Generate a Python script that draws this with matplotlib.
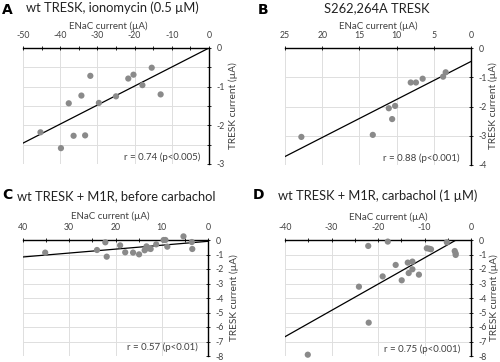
import matplotlib
matplotlib.use("Agg")
import matplotlib.pyplot as plt
from matplotlib.ticker import MultipleLocator

plt.rcParams['font.family'] = ['Lato', 'DejaVu Sans']
plt.rcParams['axes.unicode_minus'] = False

# ---- data ----
a_enac = [-45.3, -39.8, -37.7, -36.4, -34.3, -33.3, -31.9, -29.6, -25.0, -21.7, -20.3, -17.9, -15.4, -13.0]
a_tresk = [-2.18, -2.59, -1.43, -2.27, -1.23, -2.26, -0.72, -1.42, -1.25, -0.79, -0.69, -0.96, -0.51, -1.20]
a_fit_x = [-50, 0]
a_fit_y = [-2.46, 0.0]

b_enac = [22.8, 13.2, 11.05, 10.6, 10.2, 8.1, 7.4, 6.5, 3.75, 3.4]
b_tresk = [-3.04, -2.97, -2.06, -2.43, -1.98, -1.18, -1.18, -1.05, -0.98, -0.83]
b_fit_x = [25, 0]
b_fit_y = [-3.71, -0.46]

c_enac = [35.2, 24.0, 22.2, 21.9, 19.0, 17.9, 16.2, 14.9, 13.7, 13.3, 12.9, 12.4, 11.2, 9.6, 9.2, 8.8, 5.3, 3.5, 3.4]
c_tresk = [-0.87, -0.69, -0.16, -1.15, -0.37, -0.85, -0.87, -0.99, -0.71, -0.44, -0.57, -0.62, -0.30, 0.0, 0.0, -0.46, 0.25, -0.14, -0.62]
c_fit_x = [40, 0]
c_fit_y = [-1.17, -0.09]

d_enac = [-35.1, -24.1, -22.1, -22.0, -19.0, -17.9, -16.2, -14.9, -13.6, -13.4, -12.6, -12.6, -11.2, -9.5, -9.0, -8.6, -5.2, -3.5, -3.3, -3.3]
d_tresk = [-7.91, -3.22, -0.41, -5.70, -2.51, -0.11, -1.72, -2.78, -1.56, -2.28, -1.49, -2.02, -2.39, -0.57, -0.60, -0.64, -0.16, -0.76, -0.92, -1.03]
d_fit_x = [-40, -3.2]
d_fit_y = [-6.67, 0.0]

titles = ["wt TRESK, ionomycin (0.5 \u00b5M)", "S262,264A TRESK",
          "wt TRESK + M1R, before carbachol", "wt TRESK + M1R, carbachol (1 \u00b5M)"]
letters = ["A", "B", "C", "D"]
r_texts = ["r = 0.74 (p<0.005)", "r = 0.88 (p<0.001)", "r = 0.57 (p<0.01)", "r = 0.75 (p<0.001)"]
xlabel = "ENaC current (\u00b5A)"
ylabel = "TRESK current (\u00b5A)"

W, H = 500, 362
fig = plt.figure(figsize=(W / 100, H / 100), dpi=100)

def ax_rect(l, r, t, b):
    return [l / W, 1 - b / H, (r - l) / W, (b - t) / H]

def ftext(x, y, s, **kw):
    fig.text(x / W, 1 - y / H, s, **kw)

panels = [
    dict(rect=(23, 209, 48, 164), x=a_enac, y=a_tresk, fx=a_fit_x, fy=a_fit_y,
         xlim=(-50, 0), ylim=(-3, 0), xmaj=10, xmin=5, ymaj=1, ygrid=0.5),
    dict(rect=(285, 471, 48, 165), x=b_enac, y=b_tresk, fx=b_fit_x, fy=b_fit_y,
         xlim=(25, 0), ylim=(-4, 0), xmaj=5, xmin=None, ymaj=1, ygrid=1),
    dict(rect=(23, 208, 240, 356), x=c_enac, y=c_tresk, fx=c_fit_x, fy=c_fit_y,
         xlim=(40, 0), ylim=(-8, 0), xmaj=10, xmin=5, ymaj=1, ygrid=1),
    dict(rect=(285, 471, 240, 356), x=d_enac, y=d_tresk, fx=d_fit_x, fy=d_fit_y,
         xlim=(-40, 0), ylim=(-8, 0), xmaj=10, xmin=5, ymaj=1, ygrid=1),
]

txt_col = '#404040'
for i, p in enumerate(panels):
    ax = fig.add_axes(ax_rect(*p['rect']))
    ax.set_xlim(*p['xlim'])
    ax.set_ylim(*p['ylim'])
    ax.xaxis.set_major_locator(MultipleLocator(p['xmaj']))
    if p['xmin']:
        ax.xaxis.set_minor_locator(MultipleLocator(p['xmin']))
    ax.yaxis.set_major_locator(MultipleLocator(p['ymaj']))
    ax.yaxis.set_minor_locator(MultipleLocator(p['ygrid']))
    ax.xaxis.tick_top()
    ax.yaxis.tick_right()
    for s in ['left', 'bottom']:
        ax.spines[s].set_visible(False)
    for s in ['top', 'right']:
        ax.spines[s].set_linewidth(1.0)
        ax.spines[s].set_color('black')
    ax.tick_params(axis='both', which='major', labelsize=6.3, length=3, width=0.6,
                   direction='inout', colors='black', labelcolor=txt_col)
    ax.tick_params(axis='x', which='major', pad=4)
    ax.tick_params(axis='y', which='major', pad=4)
    ax.tick_params(axis='both', which='minor', length=3, width=0.6, direction='inout')
    ax.grid(True, which='major', axis='x', color='#dedede', linewidth=0.7)
    gw = 'minor' if p['ygrid'] < p['ymaj'] else 'major'
    ax.grid(True, which=gw, axis='y', color='#dedede', linewidth=0.7)
    if gw == 'minor':
        ax.grid(True, which='major', axis='y', color='#dedede', linewidth=0.7)
    ax.set_axisbelow(True)
    ax.plot(p['fx'], p['fy'], color='black', linewidth=0.9, zorder=3)
    ax.scatter(p['x'], p['y'], s=20, color='#8a8a8a', edgecolors='none', zorder=4, clip_on=False)

# titles, letters, labels (pixel positions)
ftext(7, 10, "A", fontsize=10, fontweight='bold', ha='center', va='center', family='DejaVu Sans')
ftext(112, 8, titles[0], fontsize=9.3, ha='center', va='center', color='#222222')
ftext(263, 10, "B", fontsize=10, fontweight='bold', ha='center', va='center', family='DejaVu Sans')
ftext(377, 8, titles[1], fontsize=9.3, ha='center', va='center', color='#222222')
ftext(7, 195, "C", fontsize=10, fontweight='bold', ha='center', va='center', family='DejaVu Sans')
ftext(116, 196, titles[2], fontsize=9.3, ha='center', va='center', color='#222222')
ftext(259, 195, "D", fontsize=10, fontweight='bold', ha='center', va='center', family='DejaVu Sans')
ftext(378, 196, titles[3], fontsize=9.3, ha='center', va='center', color='#222222')

for (x, y) in [(108, 26), (378, 26), (110, 216), (388, 217)]:
    ftext(x, y, xlabel, fontsize=7, ha='center', va='center', color=txt_col)
for (x, y) in [(233, 106), (493, 106), (234, 298), (494, 298)]:
    ftext(x, y, ylabel, fontsize=7.3, ha='center', va='center', rotation=90, color=txt_col)
for (x, y), s in zip([(200, 157), (460, 158), (198, 347), (460, 349)], r_texts):
    ftext(x, y, s, fontsize=7, ha='right', va='center', color=txt_col)

fig.savefig("out.png", dpi=100)
